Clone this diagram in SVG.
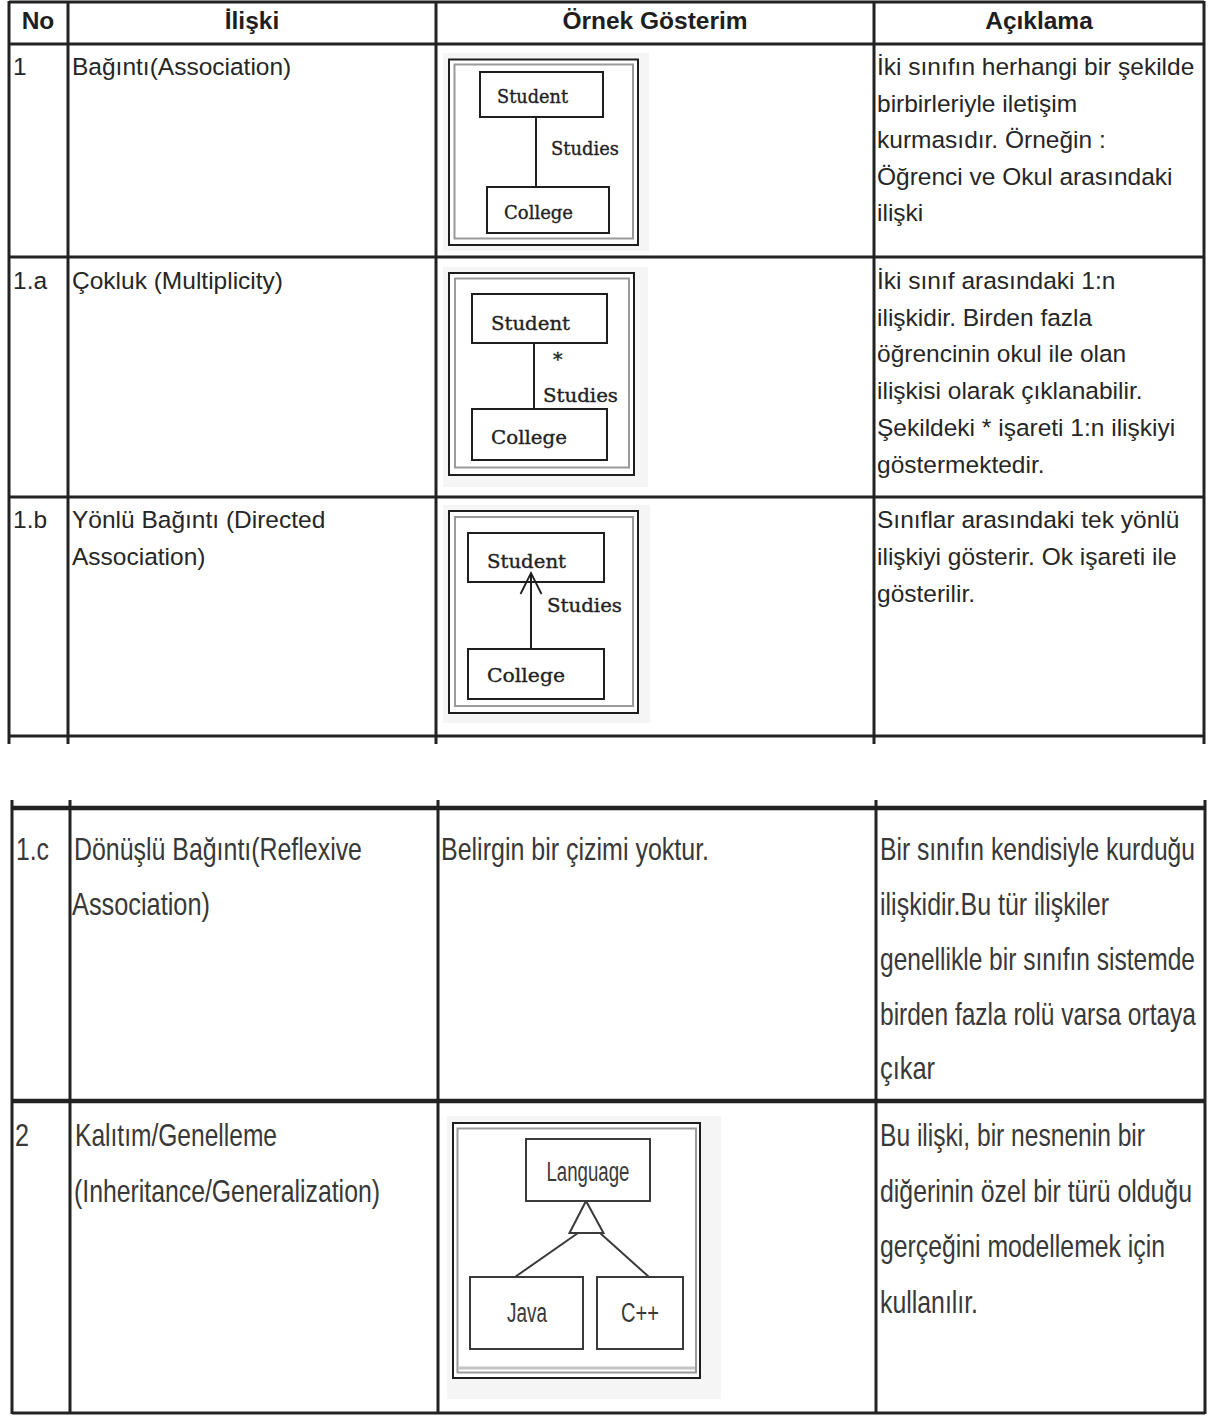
<svg xmlns="http://www.w3.org/2000/svg" width="1210" height="1416" viewBox="0 0 1210 1416">
  <defs>
    <style>
      .grid { stroke: #222; stroke-width: 3; fill: none; }
      .grid-heavy { stroke: #222; stroke-width: 4.5; fill: none; }
      .hdr { font-family: "Liberation Sans", Arial, sans-serif; font-size: 24.5px; font-weight: bold; fill: #1e1e1e; text-anchor: middle; }
      .cell { font-family: "Liberation Sans", Arial, sans-serif; font-size: 24.5px; fill: #262626; }
      .cell-n { font-family: "Liberation Sans", Arial, sans-serif; font-size: 32px; fill: #383838; }
      .shadow { fill: #f5f5f5; stroke: none; }
      .frame { fill: #fff; stroke: #1e1e1e; stroke-width: 2; }
      .frame-in { fill: none; stroke: #9a9a9a; stroke-width: 2; }
      .cls { fill: #fff; stroke: #1e1e1e; stroke-width: 2; }
      .cls-g { fill: #fff; stroke: #3a3a3a; stroke-width: 2; }
      .lbl { font-family: "DejaVu Serif", "Liberation Serif", serif; font-size: 19px; fill: #222; stroke: #222; stroke-width: 0.35; }
      .lbl-s { font-family: "Liberation Sans", Arial, sans-serif; font-size: 27px; fill: #3a3a3a; text-anchor: middle; }
      .edge { stroke: #1e1e1e; stroke-width: 2; fill: none; }
      .edge-g { stroke: #3a3a3a; stroke-width: 2; fill: none; }
    </style>
    <marker id="open-arrow" markerUnits="userSpaceOnUse" viewBox="-24 -13 27 26" markerWidth="27" markerHeight="26" refX="0" refY="0" orient="auto">
      <path d="M-21,-10.5 L0,0 L-21,10.5" fill="none" stroke="#1e1e1e" stroke-width="1.8"/>
    </marker>
  </defs>

  <rect width="1210" height="1416" fill="#fff"/>

  <!-- upper table grid -->
  <g id="table-top-grid">
    <line class="grid" x1="9" y1="2" x2="1204" y2="2"/>
    <line class="grid" x1="9" y1="44" x2="1204" y2="44"/>
    <line class="grid" x1="9" y1="257" x2="1204" y2="257"/>
    <line class="grid" x1="9" y1="497" x2="1204" y2="497"/>
    <line class="grid" x1="9" y1="736" x2="1204" y2="736"/>
    <line class="grid" x1="9" y1="1" x2="9" y2="744"/>
    <line class="grid" x1="68" y1="1" x2="68" y2="744"/>
    <line class="grid" x1="436" y1="1" x2="436" y2="744"/>
    <line class="grid" x1="874" y1="1" x2="874" y2="744"/>
    <line class="grid" x1="1204" y1="1" x2="1204" y2="744"/>
  </g>

  <!-- header -->
  <g id="header">
    <text class="hdr" x="38" y="29">No</text>
    <text class="hdr" x="252" y="29">İlişki</text>
    <text class="hdr" x="655" y="29">Örnek Gösterim</text>
    <text class="hdr" x="1039" y="29">Açıklama</text>
  </g>

  <!-- row 1 -->
  <g id="row-1">
    <text class="cell" x="13" y="75">1</text>
    <text class="cell" x="72" y="75">Bağıntı(Association)</text>
    <text class="cell" x="877" y="75">İki sınıfın herhangi bir şekilde</text>
    <text class="cell" x="877" y="111.5">birbirleriyle iletişim</text>
    <text class="cell" x="877" y="148">kurmasıdır. Örneğin :</text>
    <text class="cell" x="877" y="184.5">Öğrenci ve Okul arasındaki</text>
    <text class="cell" x="877" y="221">ilişki</text>
  </g>

  <!-- row 1.a -->
  <g id="row-1a">
    <text class="cell" x="13" y="289">1.a</text>
    <text class="cell" x="72" y="289">Çokluk (Multiplicity)</text>
    <text class="cell" x="877" y="289">İki sınıf arasındaki 1:n</text>
    <text class="cell" x="877" y="325.7">ilişkidir. Birden fazla</text>
    <text class="cell" x="877" y="362.4">öğrencinin okul ile olan</text>
    <text class="cell" x="877" y="399.1">ilişkisi olarak çıklanabilir.</text>
    <text class="cell" x="877" y="435.8">Şekildeki * işareti 1:n ilişkiyi</text>
    <text class="cell" x="877" y="472.5">göstermektedir.</text>
  </g>

  <!-- row 1.b -->
  <g id="row-1b">
    <text class="cell" x="13" y="528">1.b</text>
    <text class="cell" x="72" y="528">Yönlü Bağıntı (Directed</text>
    <text class="cell" x="72" y="565">Association)</text>
    <text class="cell" x="877" y="528">Sınıflar arasındaki tek yönlü</text>
    <text class="cell" x="877" y="565">ilişkiyi gösterir. Ok işareti ile</text>
    <text class="cell" x="877" y="602">gösterilir.</text>
  </g>

  <!-- lower table grid -->
  <g id="table-bottom-grid">
    <line class="grid-heavy" x1="12" y1="808" x2="1205" y2="808"/>
    <line class="grid-heavy" x1="12" y1="1101" x2="1205" y2="1101"/>
    <line class="grid" x1="12" y1="1413" x2="1205" y2="1413"/>
    <line class="grid" x1="12" y1="800" x2="12" y2="1414"/>
    <line class="grid" x1="70" y1="800" x2="70" y2="1414"/>
    <line class="grid" x1="438" y1="800" x2="438" y2="1414"/>
    <line class="grid" x1="876" y1="800" x2="876" y2="1414"/>
    <line class="grid" x1="1205" y1="800" x2="1205" y2="1414"/>
  </g>

  <!-- row 1.c : condensed type, squeezed horizontally to 70% -->
  <g id="row-1c">
    <text class="cell-n" transform="translate(16,860) scale(0.7,1)" textLength="47.1" lengthAdjust="spacingAndGlyphs">1.c</text>
    <text class="cell-n" transform="translate(74,860) scale(0.7,1)" textLength="411.4" lengthAdjust="spacingAndGlyphs">Dönüşlü Bağıntı(Reflexive</text>
    <text class="cell-n" transform="translate(72,915) scale(0.7,1)" textLength="197.1" lengthAdjust="spacingAndGlyphs">Association)</text>
    <text class="cell-n" transform="translate(441,860) scale(0.7,1)" textLength="382.9" lengthAdjust="spacingAndGlyphs">Belirgin bir çizimi yoktur.</text>
    <text class="cell-n" transform="translate(880,860) scale(0.7,1)" textLength="450" lengthAdjust="spacingAndGlyphs">Bir sınıfın kendisiyle kurduğu</text>
    <text class="cell-n" transform="translate(880,915) scale(0.7,1)" textLength="327.1" lengthAdjust="spacingAndGlyphs">ilişkidir.Bu tür ilişkiler</text>
    <text class="cell-n" transform="translate(880,970) scale(0.7,1)" textLength="450" lengthAdjust="spacingAndGlyphs">genellikle bir sınıfın sistemde</text>
    <text class="cell-n" transform="translate(880,1025) scale(0.7,1)" textLength="451.4" lengthAdjust="spacingAndGlyphs">birden fazla rolü varsa ortaya</text>
    <text class="cell-n" transform="translate(880,1079) scale(0.7,1)" textLength="78.6" lengthAdjust="spacingAndGlyphs">çıkar</text>
  </g>

  <!-- row 2 -->
  <g id="row-2">
    <text class="cell-n" transform="translate(15,1146) scale(0.7,1)" textLength="20" lengthAdjust="spacingAndGlyphs">2</text>
    <text class="cell-n" transform="translate(75,1146) scale(0.7,1)" textLength="288.6" lengthAdjust="spacingAndGlyphs">Kalıtım/Genelleme</text>
    <text class="cell-n" transform="translate(74,1202) scale(0.7,1)" textLength="437.1" lengthAdjust="spacingAndGlyphs">(Inheritance/Generalization)</text>
    <text class="cell-n" transform="translate(880,1146) scale(0.7,1)" textLength="378.6" lengthAdjust="spacingAndGlyphs">Bu ilişki, bir nesnenin bir</text>
    <text class="cell-n" transform="translate(880,1202) scale(0.7,1)" textLength="445.7" lengthAdjust="spacingAndGlyphs">diğerinin özel bir türü olduğu</text>
    <text class="cell-n" transform="translate(880,1257) scale(0.7,1)" textLength="407.1" lengthAdjust="spacingAndGlyphs">gerçeğini modellemek için</text>
    <text class="cell-n" transform="translate(880,1313) scale(0.7,1)" textLength="140" lengthAdjust="spacingAndGlyphs">kullanılır.</text>
  </g>

  <!-- example frames -->
  <g id="frame-association">
    <rect class="shadow" x="443" y="53" width="206" height="198"/>
    <rect class="frame" x="449" y="59.5" width="189" height="185.5"/>
    <rect class="frame-in" x="454.5" y="64.5" width="178.5" height="174"/>
  </g>
  <g id="frame-multiplicity">
    <rect class="shadow" x="443" y="267" width="205" height="220"/>
    <rect class="frame" x="449" y="273" width="185" height="202"/>
    <rect class="frame-in" x="455" y="278.5" width="174" height="189"/>
  </g>
  <g id="frame-directed">
    <rect class="shadow" x="443" y="505" width="207" height="218"/>
    <rect class="frame" x="449" y="511" width="189" height="202"/>
    <rect class="frame-in" x="455" y="517" width="178" height="189"/>
  </g>
  <g id="frame-inheritance">
    <rect class="shadow" x="447" y="1116" width="274" height="283"/>
    <rect class="frame" x="453" y="1123" width="247" height="255"/>
    <rect class="frame-in" x="457.5" y="1128.5" width="238.5" height="244"/>
    <line x1="459" y1="1368" x2="695" y2="1368" stroke="#c4c4c4" stroke-width="3"/>
  </g>

  <!-- connectors -->
  <g id="connectors">
    <line id="assoc-studies" class="edge" x1="536" y1="117" x2="536" y2="187"/>
    <line id="multi-studies" class="edge" x1="534" y1="343" x2="534" y2="409"/>
    <line id="directed-studies" class="edge" x1="531" y1="649" x2="531" y2="573" marker-end="url(#open-arrow)"/>
    <polygon id="generalization-head" points="586,1201 569.5,1233 603.5,1233" fill="#fff" stroke="#3a3a3a" stroke-width="2"/>
    <line id="java-language" class="edge-g" x1="578" y1="1233" x2="515" y2="1277"/>
    <line id="cpp-language" class="edge-g" x1="600" y1="1233" x2="649" y2="1277"/>
  </g>

  <!-- connector labels -->
  <g id="connector-labels">
    <text class="lbl" x="551" y="155" textLength="68" lengthAdjust="spacingAndGlyphs">Studies</text>
    <text class="lbl" x="553" y="366" font-size="18">*</text>
    <text class="lbl" x="543" y="402" textLength="75" lengthAdjust="spacingAndGlyphs" font-size="21">Studies</text>
    <text class="lbl" x="547" y="612" textLength="75" lengthAdjust="spacingAndGlyphs" font-size="21">Studies</text>
  </g>

  <!-- class boxes -->
  <g id="assoc-student">
    <rect class="cls" x="480" y="72" width="123" height="45"/>
    <text class="lbl" x="497" y="103" textLength="71" lengthAdjust="spacingAndGlyphs">Student</text>
  </g>
  <g id="assoc-college">
    <rect class="cls" x="487" y="187" width="122" height="46"/>
    <text class="lbl" x="504" y="218.5" textLength="69" lengthAdjust="spacingAndGlyphs">College</text>
  </g>
  <g id="multi-student">
    <rect class="cls" x="472" y="294" width="135" height="49"/>
    <text class="lbl" x="491" y="330" textLength="79" lengthAdjust="spacingAndGlyphs" font-size="21">Student</text>
  </g>
  <g id="multi-college">
    <rect class="cls" x="472" y="409" width="135" height="51"/>
    <text class="lbl" x="491" y="444" textLength="76" lengthAdjust="spacingAndGlyphs" font-size="21">College</text>
  </g>
  <g id="directed-student">
    <rect class="cls" x="468" y="533" width="136" height="49" fill-opacity="0"/>
    <text class="lbl" x="487" y="568" textLength="79" lengthAdjust="spacingAndGlyphs" font-size="21">Student</text>
  </g>
  <g id="directed-college">
    <rect class="cls" x="468" y="649" width="136" height="50"/>
    <text class="lbl" x="487" y="682" textLength="78" lengthAdjust="spacingAndGlyphs" font-size="21">College</text>
  </g>
  <g id="language">
    <rect class="cls-g" x="526" y="1139" width="124" height="62"/>
    <text class="lbl-s" x="588" y="1181" textLength="83" lengthAdjust="spacingAndGlyphs">Language</text>
  </g>
  <g id="java">
    <rect class="cls-g" x="470" y="1277" width="113" height="72"/>
    <text class="lbl-s" x="527" y="1322" textLength="40" lengthAdjust="spacingAndGlyphs">Java</text>
  </g>
  <g id="cpp">
    <rect class="cls-g" x="597" y="1277" width="86" height="72"/>
    <text class="lbl-s" x="640" y="1322" textLength="38" lengthAdjust="spacingAndGlyphs">C++</text>
  </g>
</svg>
